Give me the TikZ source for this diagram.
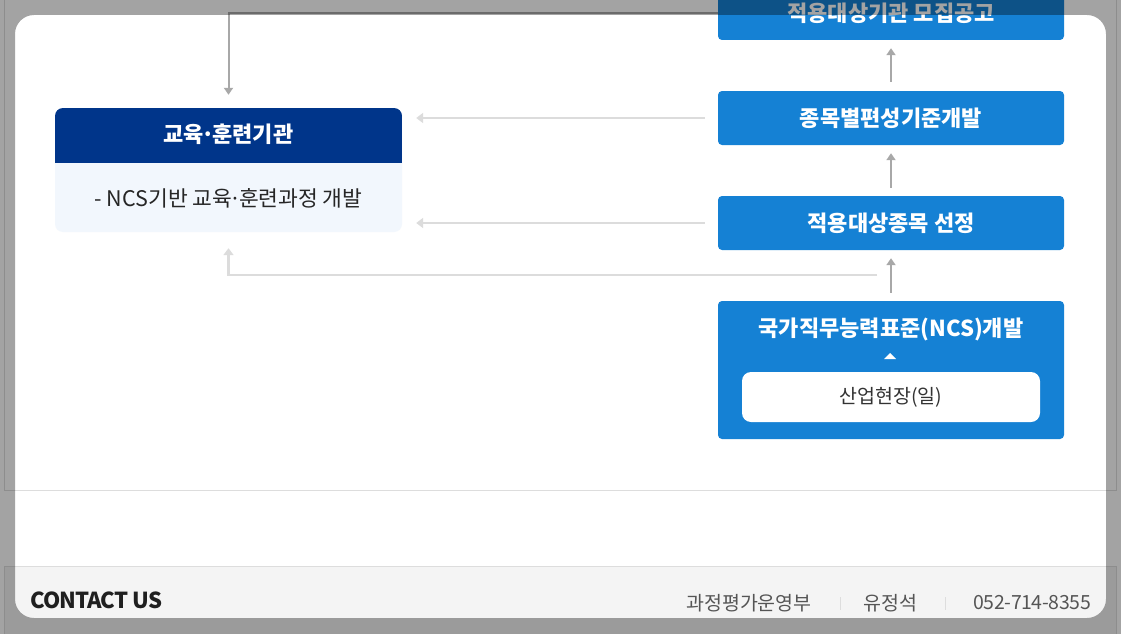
\documentclass[tikz,border=0pt]{standalone}
\usepackage{fontspec}
\setmainfont{Noto Sans CJK KR}
\usetikzlibrary{calc,arrows.meta}
\definecolor{bluebox}{HTML}{1581D4}
\definecolor{navyhead}{HTML}{00358A}
\definecolor{lightbody}{HTML}{F2F7FD}
\definecolor{arrdark}{HTML}{A8A8A8}
\definecolor{arrlight}{HTML}{DCDCDC}
\definecolor{pageline}{HTML}{DDDDDD}
\definecolor{footbg}{HTML}{F4F4F4}
\definecolor{foottext}{HTML}{555555}
\newcommand{\mdot}{\hspace{-0.12em}·\hspace{-0.12em}}
\begin{document}
\begin{tikzpicture}[x=1pt,y=-1pt,
  stepbox/.style={fill=bluebox, rounded corners=4pt, minimum width=346pt, minimum height=54pt, inner sep=0pt, text=white, font=\fontsize{22}{25}\selectfont\bfseries},
  titletext/.style={text=white, inner sep=0pt, font=\fontsize{22}{25}\selectfont\bfseries},
  darrow/.style={draw=arrdark, line width=2pt, -{Triangle[width=9pt,length=7pt]}},
  larrow/.style={draw=arrlight, line width=2.5pt, -{Triangle[width=10pt,length=7pt]}},
  foot/.style={text=foottext, inner sep=0pt, font=\fontsize{19.5}{22}\selectfont}
]
\useasboundingbox (0,0) rectangle (1121,634);
% page background
\fill[white] (0,0) rectangle (1121,634);
\draw[pageline, line width=1pt] (4,-5) -- (4,490) -- (1116,490) -- (1116,-5);
\fill[footbg] (4,566) rectangle (1116,640);
\draw[pageline, line width=1pt] (4,640) -- (4,566) -- (1116,566) -- (1116,640);

% right column
\node[stepbox] (b1) at (891,13) {적용대상기관 모집공고};
\node[stepbox] (b2) at (891,118) {종목별편성기준개발};
\node[stepbox] (b3) at (891,223) {적용대상종목 선정};
\node[fill=bluebox, rounded corners=4pt, minimum width=346pt, minimum height=138pt, inner sep=0pt] (b4) at (891,370) {};
\node[titletext] (b4t) at (891,329) {국가직무능력표준(NCS)개발};
\fill[white] (884,359) -- (896,359) -- (890,353) -- cycle;
\node[fill=white, rounded corners=9pt, minimum width=298pt, minimum height=50pt, inner sep=0pt, text=black!80, font=\fontsize{19.5}{22}\selectfont] (b4i) at (891,397) {산업현장(일)};

% left box
\node[fill=lightbody, rounded corners=8pt, minimum width=347pt, minimum height=124pt, inner sep=0pt] (lbox) at (228.5,170) {};
\begin{scope}
  \clip[rounded corners=8pt] (55,108) rectangle (402,232);
  \fill[navyhead] (55,108) rectangle (402,163);
\end{scope}
\node[titletext] (lh) at (228.5,134) {교육\mdot 훈련기관};
\node[inner sep=0pt, text=black!85, font=\fontsize{21.5}{24}\selectfont] (lb) at (228.5,198) {- NCS기반 교육\mdot 훈련과정 개발};

% connectors
\draw[darrow] ([yshift=9pt]b2.north) -- ([yshift=-8pt]b1.south);
\draw[darrow] ([yshift=8pt]b3.north) -- ([yshift=-8pt]b2.south);
\draw[darrow] ([yshift=8pt]b4.north) -- ([yshift=-8pt]b3.south);
\draw[larrow] ([xshift=-13pt]b2.west) -- ($(b2.west -| lbox.east)+(14,0)$);
\draw[larrow] ([xshift=-13pt]b3.west) -- ($(b3.west -| lbox.east)+(14,0)$);
\draw[larrow] ($(b4.north)+(-14,-26)$) -| ([yshift=-16pt]lbox.south);
\draw[darrow] (b1.west) -| ([yshift=13pt]lbox.north);

% footer
\node[anchor=west, inner sep=0pt, text=black!88, font=\fontsize{22}{26}\selectfont\bfseries] (contact) at (30,600) {\addfontfeature{LetterSpace=-4}CONTACT US};
\node[foot, anchor=east] (tel) at (1091,603) {\addfontfeature{LetterSpace=-2}052-714-8355};
\node[foot, anchor=east] (name) at (918,603) {유정석};
\node[foot, anchor=east] (dept) at (812,603) {과정평가운영부};
\draw[pageline, line width=1pt] (840,597) -- (840,610);
\draw[pageline, line width=1pt] (945,597) -- (945,610);

% modal overlay
\fill[black, opacity=0.36, even odd rule] (-5,-5) rectangle (1126,640) {[rounded corners=19pt] (15,15) rectangle (1106,618)};
\end{tikzpicture}
\end{document}
